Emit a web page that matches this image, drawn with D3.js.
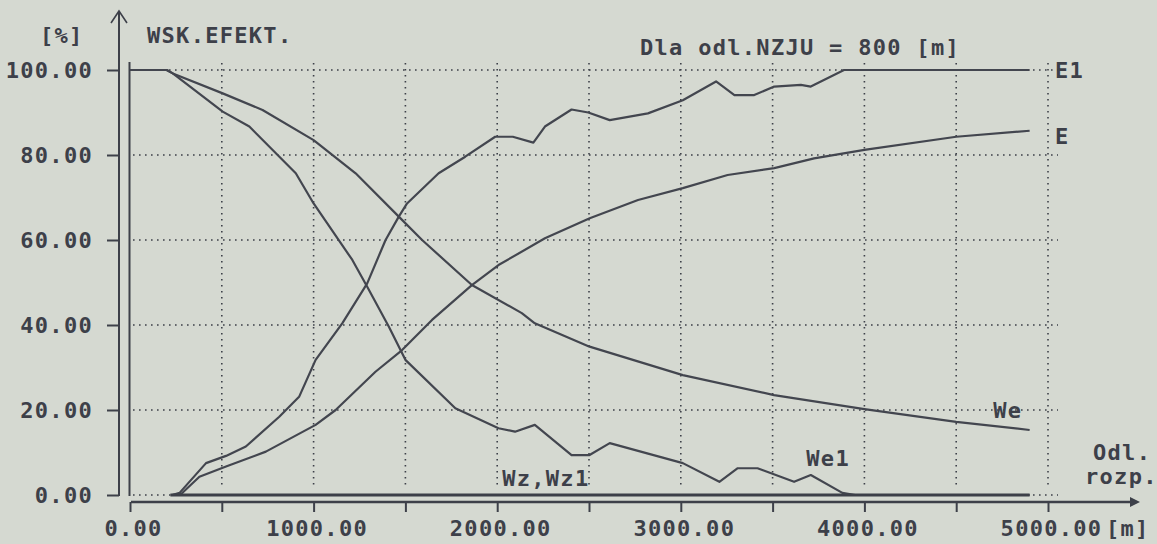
<!DOCTYPE html>
<html>
<head>
<meta charset="utf-8">
<script src="https://cdn.jsdelivr.net/npm/d3@7"></script>
<style>
  html, body { margin: 0; padding: 0; background: #d5d9d1; }
  svg { display: block; }
</style>
</head>
<body>
<div id="chart"></div>
<script>
// distance [m] / value [%] pairs
const seriesE1 = [[230,0],[270,0.5],[414,7.5],[523,9.2],[631,11.4],[813,18.4],[921,23.1],[1011,31.8],[1156,40.4],[1292,49.8],[1392,60],[1464,65.5],[1509,68.6],[1681,75.7],[1826,79.6],[1989,84.3],[2085,84.3],[2197,82.9],[2260,86.7],[2405,90.7],[2496,90],[2613,88.2],[2821,89.8],[3011,92.9],[3192,97.3],[3292,94.1],[3400,94.1],[3509,96.1],[3654,96.5],[3708,96.1],[3889,100],[4900,100]];
const seriesE = [[230,0],[280,0.3],[378,4.3],[523,6.7],[740,10.2],[1011,16.5],[1120,20],[1337,29],[1482,34.1],[1645,41.2],[1862,49.4],[2007,54.1],[2260,60.4],[2504,65.1],[2767,69.4],[3011,72.2],[3255,75.3],[3509,76.9],[3726,79.2],[4000,81.2],[4500,84.3],[4900,85.7]];
const seriesWe = [[0,100],[200,100],[233,99.2],[505,94.5],[722,90.6],[1000,83.5],[1229,75.7],[1464,65.5],[1591,60],[1862,49.4],[2134,42.8],[2205,40.4],[2503,34.9],[3011,28.2],[3508,23.5],[4000,20.2],[4500,17.2],[4900,15.3]];
const seriesWe1 = [[0,100],[200,100],[233,99.2],[505,90.2],[650,86.7],[903,75.7],[1000,68.6],[1211,55.3],[1292,49],[1410,39.6],[1500,31.8],[1772,20.4],[2007,15.7],[2097,14.9],[2205,16.5],[2405,9.4],[2503,9.4],[2613,12.2],[3011,7.5],[3210,3.1],[3310,6.3],[3418,6.3],[3617,3.1],[3708,4.7],[3880,0.5],[3950,0],[4900,0]];
const seriesWz = [[220,0],[4900,0]];

const xTicks = [0,500,1000,1500,2000,2500,3000,3500,4000,4500,5000];
const xLabelTicks = [0,1000,2000,3000,4000,5000];
const yTicks = [0,20,40,60,80,100];

const width = 1157, height = 544;
const ink = '#3d4049';
const lineInk = '#43464f';
const font = "'DejaVu Sans Mono', monospace";

const svg = d3.select('#chart').append('svg')
    .attr('width', width).attr('height', height)
    .style('background', '#d5d9d1');

const x = d3.scaleLinear().domain([0, 5000]).range([130, 1048]);
const y = d3.scaleLinear().domain([0, 100]).range([495, 70]);

const txt = (sel) => sel
    .attr('font-family', font)
    .attr('font-weight', 'bold')
    .attr('font-size', 22)
    .attr('letter-spacing', 1.3)
    .attr('fill', ink);

// dotted grid
const grid = svg.append('g');
grid.selectAll('line.h').data(yTicks).enter().append('line')
    .attr('x1', 133).attr('x2', 1058)
    .attr('y1', d => y(d)).attr('y2', d => y(d))
    .attr('stroke', ink).attr('stroke-width', 1.6)
    .attr('stroke-dasharray', '1.6,4.4');
grid.selectAll('line.v').data(xTicks.filter(d => d > 0)).enter().append('line')
    .attr('x1', d => x(d)).attr('x2', d => x(d))
    .attr('y1', 63).attr('y2', 488)
    .attr('stroke', ink).attr('stroke-width', 1.6)
    .attr('stroke-dasharray', '1.6,4.4');

// y axis (outer with arrow, inner plain)
const yAxis = svg.append('g')
    .attr('transform', 'translate(119,0)')
    .call(d3.axisLeft(y).tickValues(yTicks).tickSize(12).tickPadding(14).tickFormat(d => d.toFixed(2)));
yAxis.select('.domain').remove();
yAxis.selectAll('.tick line').attr('stroke', ink).attr('stroke-width', 2);
yAxis.selectAll('.tick text').call(txt).attr('dy', '0.36em');

svg.append('line').attr('x1', 119).attr('x2', 119).attr('y1', 11).attr('y2', 496)
    .attr('stroke', ink).attr('stroke-width', 2);
svg.append('path').attr('d', 'M111,23 L119,11 L127,23')
    .attr('fill', 'none').attr('stroke', ink).attr('stroke-width', 1.6);
svg.append('line').attr('x1', 129.5).attr('x2', 129.5).attr('y1', 62).attr('y2', 496)
    .attr('stroke', ink).attr('stroke-width', 2);

// x axis
const xAxis = svg.append('g')
    .attr('transform', 'translate(0,502)')
    .call(d3.axisBottom(x).tickValues(xTicks).tickSize(10).tickPadding(8)
        .tickFormat(d => xLabelTicks.includes(d) ? d.toFixed(2) : ''));
xAxis.select('.domain').remove();
xAxis.selectAll('.tick line').attr('stroke', ink).attr('stroke-width', 2);
xAxis.selectAll('.tick text').call(txt).attr('dy', '0.71em').attr('dx', 3);

svg.append('line').attr('x1', 131).attr('x2', 1132).attr('y1', 502).attr('y2', 502)
    .attr('stroke', ink).attr('stroke-width', 2.4);
svg.append('path').attr('d', 'M1140,502 L1130,497 L1130,507 Z').attr('fill', ink);

// curves
const line = d3.line().x(d => x(d[0])).y(d => y(d[1]));
[seriesE1, seriesE, seriesWe, seriesWe1].forEach(s => {
    svg.append('path').datum(s).attr('d', line)
        .attr('fill', 'none').attr('stroke', lineInk).attr('stroke-width', 2.2)
        .attr('stroke-linejoin', 'round');
});
svg.append('path').datum(seriesWz).attr('d', line)
    .attr('fill', 'none').attr('stroke', ink).attr('stroke-width', 3.2);

// texts
svg.append('text').attr('x', 40).attr('y', 43).text('[%]').call(txt);
svg.append('text').attr('x', 147).attr('y', 43).text('WSK.EFEKT.').call(txt);
svg.append('text').attr('x', 640).attr('y', 55).text('Dla odl.NZJU = 800 [m]').call(txt);
svg.append('text').attr('x', x(5000) + 7).attr('y', y(100) + 8).text('E1').call(txt);
svg.append('text').attr('x', x(5000) + 7).attr('y', y(84.5) + 8).text('E').call(txt);
svg.append('text').attr('x', x(4500) + 37).attr('y', y(20) + 8).text('We').call(txt);
svg.append('text').attr('x', x(3700) - 3).attr('y', y(8.7) + 8).text('We1').call(txt);
svg.append('text').attr('x', x(2000) + 5).attr('y', y(4) + 8).text('Wz,Wz1').call(txt);
svg.append('text').attr('x', 1093).attr('y', 460).text('Odl.').call(txt);
svg.append('text').attr('x', 1085).attr('y', 484).text('rozp.').call(txt);
svg.append('text').attr('x', 1106).attr('y', 536).text('[m]').call(txt);
</script>
</body>
</html>
